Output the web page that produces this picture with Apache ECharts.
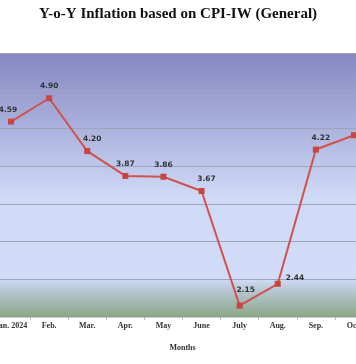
<!DOCTYPE html>
<html><head><meta charset="utf-8">
<script src="https://cdn.jsdelivr.net/npm/echarts@6/dist/echarts.min.js"></script>
<style>html,body{margin:0;padding:0;background:#fff}#c{width:356px;height:364px}</style>
</head><body><div id="c"></div>
<script>
var months = ['Jan. 2024','Feb.','Mar.','Apr.','May','June','July','Aug.','Sep.','Oct.'];
var inflation = [4.59, 4.90, 4.20, 3.87, 3.86, 3.67, 2.15, 2.44, 4.22, 4.41];
var labelShown = [true, true, true, true, true, true, true, true, true, false];

var chart = echarts.init(document.getElementById('c'), null, {renderer:'canvas'});
var data = inflation.map(function(v,i){
  var d = {value:v, label:{show:labelShown[i]}};
  if (i === 0) d.label.offset = [-3, 0];
  if (i === 2 || i === 5 || i === 8) d.label.offset = [5, 0];
  if (i === 6) d.label.offset = [6, -4];
  if (i === 7) { d.label.position = 'right'; d.label.offset = [0, -6]; }
  return d;
});
chart.setOption({
  animation:false,
  title:{text:'Y-o-Y Inflation based on CPI-IW (General)', left:'center', top:2,
    textStyle:{fontFamily:'Liberation Serif', fontWeight:'bold', fontSize:15, color:'#111'}},
  grid:{left:-8, right:-17, top:53, bottom:47, show:true, borderWidth:0,
    outerBoundsMode:'none', containLabel:false,
    backgroundColor:{type:'linear',x:0,y:0,x2:0,y2:1,colorStops:[
      {offset:0,color:'#8587c2'},{offset:0.55,color:'#cfdaf7'},{offset:0.855,color:'#d0dcf8'},
      {offset:0.9,color:'#b7c7d2'},{offset:1,color:'#8aa689'}]}},
  xAxis:{type:'category', data:months, boundaryGap:true,
    name:'Months', nameLocation:'middle', nameGap:27,
    nameTextStyle:{fontFamily:'Liberation Serif', fontWeight:'bold', fontSize:8, color:'#333'},
    axisLine:{lineStyle:{color:'#c8c8c8'}},
    axisTick:{show:true, length:3, lineStyle:{color:'#bbb'}},
    axisLabel:{fontFamily:'Liberation Serif', fontWeight:'bold', fontSize:8, color:'#333', margin:5, interval:0}},
  yAxis:{type:'value', min:2, max:5.5, interval:0.5,
    axisLabel:{show:false}, axisLine:{show:false}, axisTick:{show:false},
    splitLine:{lineStyle:{color:'#9fa3bd', width:1}}},
  series:[{type:'line', data:data, symbol:'rect', symbolSize:6,
    lineStyle:{color:'#d1524b', width:2}, itemStyle:{color:'#c9453e'},
    label:{show:true, position:'top', distance:5, fontSize:7.5, fontWeight:'bold', color:'#333',
      fontFamily:'DejaVu Sans', formatter:function(p){return p.value.toFixed(2);}}}]
});
</script></body></html>
